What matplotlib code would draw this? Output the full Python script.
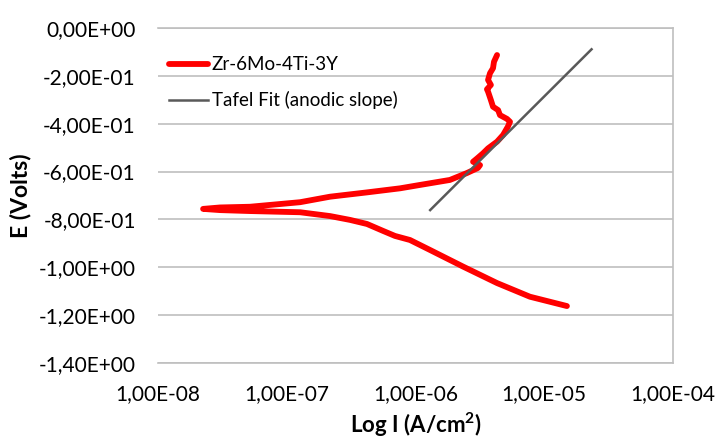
import matplotlib
matplotlib.use("Agg")
import matplotlib.pyplot as plt
from matplotlib.ticker import FuncFormatter, FixedLocator

# Polarization curve Zr-6Mo-4Ti-3Y (current density A/cm^2, potential V)
current = [1.50e-5, 7.74e-6, 4.30e-6, 2.34e-6, 1.30e-6, 9.06e-7, 6.93e-7, 5.60e-7,
           4.20e-7, 3.10e-7, 2.17e-7, 1.27e-7, 5.19e-8, 3.03e-8, 2.24e-8,
           3.03e-8, 5.19e-8, 1.27e-7, 2.17e-7, 4.20e-7, 7.59e-7, 1.08e-6, 1.85e-6,
           2.51e-6, 3.05e-6, 3.17e-6, 2.80e-6, 3.01e-6, 3.34e-6, 3.66e-6, 4.30e-6,
           4.79e-6, 5.22e-6, 5.42e-6, 5.14e-6, 4.53e-6, 4.38e-6, 4.00e-6, 3.85e-6,
           3.66e-6, 3.59e-6, 3.85e-6, 3.66e-6, 3.79e-6, 4.00e-6, 4.07e-6, 4.30e-6]
potential = [-1.162, -1.123, -1.066, -0.997, -0.928, -0.886, -0.869, -0.848,
             -0.819, -0.802, -0.786, -0.770, -0.765, -0.761, -0.756,
             -0.750, -0.747, -0.728, -0.705, -0.687, -0.670, -0.656, -0.635,
             -0.606, -0.585, -0.573, -0.559, -0.545, -0.524, -0.503, -0.475,
             -0.447, -0.412, -0.392, -0.380, -0.364, -0.343, -0.329, -0.301,
             -0.266, -0.256, -0.238, -0.217, -0.189, -0.168, -0.141, -0.113]

# Tafel fit line (anodic slope)
tafel_current = [1.30e-6, 2.33e-5]
tafel_potential = [-0.761, -0.089]

x_ticks = [1e-8, 1e-7, 1e-6, 1e-5, 1e-4]
y_ticks = [0.0, -0.2, -0.4, -0.6, -0.8, -1.0, -1.2, -1.4]

plt.rcParams['font.family'] = ['Lato', 'DejaVu Sans']
plt.rcParams['mathtext.fontset'] = 'custom'
plt.rcParams['mathtext.bf'] = 'Lato:bold'
plt.rcParams['mathtext.rm'] = 'Lato'

fig = plt.figure(figsize=(7.15, 4.41), dpi=100)
ax = fig.add_axes([158/715, 78/441, (673-158)/715, (363-28)/441])

ax.plot(current, potential, color='#ff0000', lw=4.2, solid_capstyle='round',
        solid_joinstyle='round', label='Zr-6Mo-4Ti-3Y', zorder=3)
ax.plot(tafel_current, tafel_potential, color='#595959', lw=1.8,
        label='Tafel Fit (anodic slope)', zorder=4)

ax.set_xscale('log')
ax.set_xlim(1e-8, 1e-4)
ax.set_ylim(-1.4, 0.0)
ax.xaxis.set_major_locator(FixedLocator(x_ticks))
ax.xaxis.set_minor_locator(FixedLocator([]))
ax.yaxis.set_major_locator(FixedLocator(y_ticks))


def fmt(v, pos):
    if abs(v) < 1e-12:
        v = 0.0
    return f"{v:.2E}".replace('.', ',')


ax.xaxis.set_major_formatter(FuncFormatter(fmt))
ax.yaxis.set_major_formatter(FuncFormatter(fmt))

ax.grid(axis='y', color='#bfbfbf', lw=1.2)
ax.set_axisbelow(True)
ax.tick_params(length=0, labelsize=15, colors='black')
ax.tick_params(axis='y', pad=16)
ax.tick_params(axis='x', pad=15)

ax.spines['left'].set_visible(False)
for s in ['top', 'bottom', 'right']:
    ax.spines[s].set_color('#bfbfbf')
    ax.spines[s].set_linewidth(1.2)

ax.set_xlabel('Log I (A/cm$^{\\mathbf{2}}$)', fontsize=16, fontweight='bold')
ax.set_ylabel('E (Volts)', fontsize=16.5, fontweight='bold')
ax.xaxis.set_label_coords(0.5, (363 - 411) / 335)
ax.yaxis.set_label_coords((31 - 158) / 515, 0.5)

leg = ax.legend(loc='upper left', bbox_to_anchor=(-0.005, 0.955), frameon=False,
                fontsize=13.5, handlelength=2.1, handletextpad=0.2,
                labelspacing=0.95, borderaxespad=0.3)

fig.savefig('out.png', dpi=100)
